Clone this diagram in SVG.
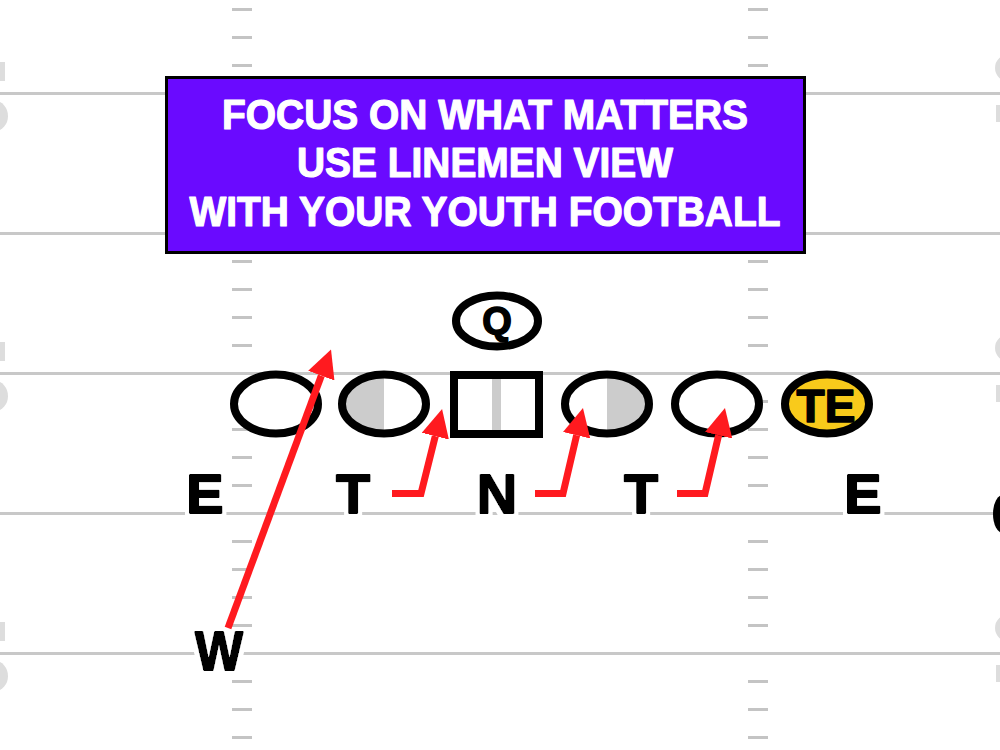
<svg xmlns="http://www.w3.org/2000/svg" width="1000" height="750" viewBox="0 0 1000 750">
  <defs>
    <style>
      .yard { stroke: #c8c8c8; stroke-width: 3; }
      .hash { stroke: #c4c4c4; stroke-width: 3; }
      .frag { fill: #dddddd; }
      .title { font-family: "Liberation Sans", Arial, sans-serif; font-weight: bold; font-size: 42px; fill: #ffffff; stroke: #ffffff; stroke-width: 1.2; stroke-linejoin: round; text-anchor: middle; }
      .player { fill: #ffffff; stroke: #000000; stroke-width: 8; }
      .half { fill: #cccccc; }
      .ptext { font-family: "Liberation Sans", Arial, sans-serif; font-weight: bold; fill: #000000; stroke: #000000; stroke-width: 1.5; stroke-linejoin: round; text-anchor: middle; }
      .label { font-family: "Liberation Sans", Arial, sans-serif; font-weight: bold; font-size: 56px; fill: #000000; stroke: #000000; stroke-width: 2; stroke-linejoin: round; text-anchor: middle; filter: url(#halo); }
      .route { fill: none; stroke: #ff1a1f; stroke-width: 7; stroke-linejoin: miter; marker-end: url(#arrow); }
    </style>
    <filter id="halo" x="-30%" y="-30%" width="160%" height="160%">
      <feMorphology in="SourceAlpha" operator="dilate" radius="4" result="fat"/>
      <feFlood flood-color="#ffffff"/>
      <feComposite in2="fat" operator="in" result="white"/>
      <feMerge>
        <feMergeNode in="white"/>
        <feMergeNode in="SourceGraphic"/>
      </feMerge>
    </filter>
    <marker id="arrow" markerUnits="userSpaceOnUse" viewBox="0 0 28 28" markerWidth="28" markerHeight="28" refX="0" refY="14" orient="auto">
      <path d="M0,0 L28,14 L0,28 Z" fill="#ff1a1f"/>
    </marker>
  </defs>

  <rect width="1000" height="750" fill="#ffffff"/>

  <g id="field">
    <line class="yard" x1="0" y1="93.5" x2="1000" y2="93.5"/>
    <line class="yard" x1="0" y1="233.5" x2="1000" y2="233.5"/>
    <line class="yard" x1="0" y1="373.5" x2="1000" y2="373.5"/>
    <line class="yard" x1="0" y1="513.5" x2="1000" y2="513.5"/>
    <line class="yard" x1="0" y1="653.5" x2="1000" y2="653.5"/>
    <path class="hash" d="M232,9.5h20M232,37.5h20M232,65.5h20M232,121.5h20M232,149.5h20M232,177.5h20M232,205.5h20M232,261.5h20M232,289.5h20M232,317.5h20M232,345.5h20M232,401.5h20M232,429.5h20M232,457.5h20M232,485.5h20M232,541.5h20M232,569.5h20M232,597.5h20M232,625.5h20M232,681.5h20M232,709.5h20M232,737.5h20"/>
    <path class="hash" d="M748,9.5h20M748,37.5h20M748,65.5h20M748,121.5h20M748,149.5h20M748,177.5h20M748,205.5h20M748,261.5h20M748,289.5h20M748,317.5h20M748,345.5h20M748,401.5h20M748,429.5h20M748,457.5h20M748,485.5h20M748,541.5h20M748,569.5h20M748,597.5h20M748,625.5h20M748,681.5h20M748,709.5h20M748,737.5h20"/>
    <rect class="frag" x="0" y="62" width="5" height="19"/>
    <ellipse class="frag" cx="-5" cy="116" rx="13" ry="15"/>
    <rect class="frag" x="0" y="342" width="5" height="19"/>
    <ellipse class="frag" cx="-5" cy="396" rx="13" ry="15"/>
    <rect class="frag" x="0" y="622" width="5" height="19"/>
    <ellipse class="frag" cx="-5" cy="676" rx="13" ry="15"/>
    <ellipse class="frag" cx="1010" cy="68" rx="15" ry="14"/>
    <rect class="frag" x="996" y="105" width="4" height="17"/>
    <ellipse class="frag" cx="1010" cy="348" rx="15" ry="14"/>
    <rect class="frag" x="996" y="385" width="4" height="17"/>
    <ellipse class="frag" cx="1010" cy="628" rx="15" ry="14"/>
    <rect class="frag" x="996" y="665" width="4" height="17"/>
    <ellipse cx="1003" cy="514" rx="10" ry="19" fill="#000000"/>
  </g>

  <g id="title-box">
    <rect x="166.5" y="77.5" width="638" height="175" fill="#6a0aff" stroke="#000000" stroke-width="3"/>
    <text class="title" x="485" y="129" textLength="526" lengthAdjust="spacingAndGlyphs">FOCUS ON WHAT MATTERS</text>
    <text class="title" x="485" y="177" textLength="376" lengthAdjust="spacingAndGlyphs">USE LINEMEN VIEW</text>
    <text class="title" x="485" y="226" textLength="591" lengthAdjust="spacingAndGlyphs">WITH YOUR YOUTH FOOTBALL</text>
  </g>

  <g id="qb">
    <ellipse class="player" cx="497" cy="321" rx="41" ry="25.5"/>
    <text class="ptext" x="497" y="334" font-size="38">Q</text>
  </g>
  <g id="left-tackle">
    <ellipse class="player" cx="276" cy="404" rx="42" ry="29.5"/>
  </g>
  <g id="left-guard">
    <ellipse cx="384" cy="404" rx="42" ry="29.5" fill="#ffffff"/>
    <path class="half" d="M384,374.5 A42,29.5 0 0 0 384,433.5 Z"/>
    <ellipse cx="384" cy="404" rx="42" ry="29.5" fill="none" stroke="#000000" stroke-width="8"/>
  </g>
  <g id="center">
    <rect x="454" y="375" width="85" height="59" fill="#ffffff"/>
    <rect x="492" y="375" width="9" height="59" fill="#cccccc"/>
    <rect x="454" y="375" width="85" height="59" fill="none" stroke="#000000" stroke-width="8"/>
  </g>
  <g id="right-guard">
    <ellipse cx="607" cy="404" rx="42" ry="29.5" fill="#ffffff"/>
    <path class="half" d="M607,374.5 A42,29.5 0 0 1 607,433.5 Z"/>
    <ellipse cx="607" cy="404" rx="42" ry="29.5" fill="none" stroke="#000000" stroke-width="8"/>
  </g>
  <g id="right-tackle">
    <ellipse class="player" cx="717" cy="404" rx="42" ry="29.5"/>
  </g>
  <g id="tight-end">
    <ellipse cx="827" cy="404" rx="42" ry="29.5" fill="#f8ca1b" stroke="#000000" stroke-width="8"/>
    <text class="ptext" x="826" y="422" font-size="46">TE</text>
  </g>

  <g id="defense">
    <g id="def-e-left"><text class="label" x="205" y="513">E</text></g>
    <g id="def-t-left"><text class="label" x="353" y="513">T</text></g>
    <g id="def-n"><text class="label" x="497" y="513">N</text></g>
    <g id="def-t-right"><text class="label" x="641" y="513">T</text></g>
    <g id="def-e-right"><text class="label" x="863" y="513">E</text></g>
    <g id="def-w"><text class="label" x="219" y="670" textLength="48" lengthAdjust="spacingAndGlyphs">W</text></g>
  </g>

  <g id="connectors">
    <path class="route" d="M228,628 L321.3,375.7"/>
    <path class="route" d="M392,493.5 L421,493.5 L435.3,436.2"/>
    <path class="route" d="M535,493.5 L563,493.5 L576.6,435.3"/>
    <path class="route" d="M677,493.5 L705,493.5 L718.6,435.3"/>
  </g>
</svg>
